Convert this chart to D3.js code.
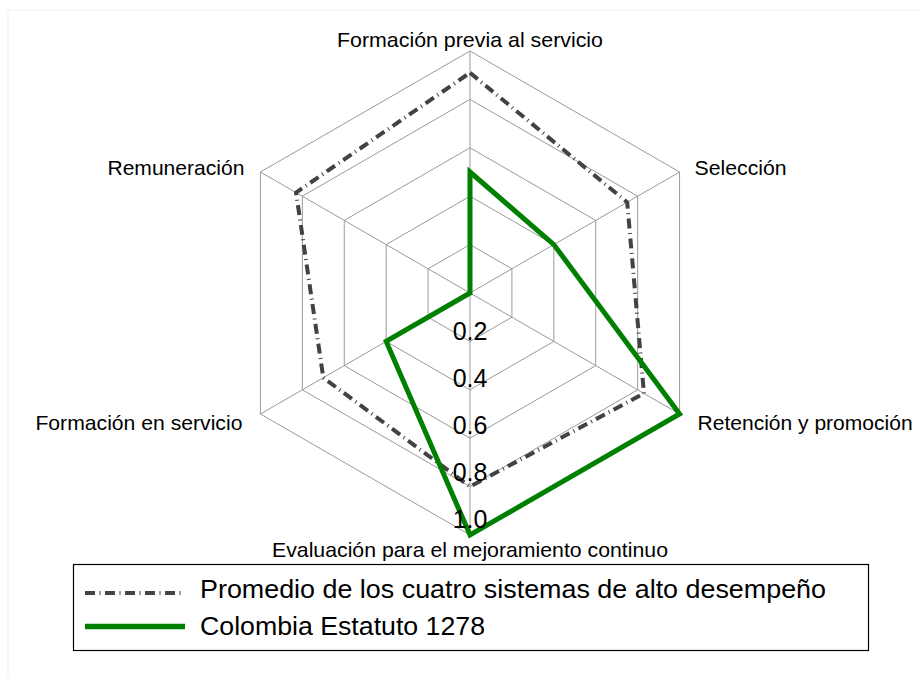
<!DOCTYPE html>
<html>
<head>
<meta charset="utf-8">
<script src="https://cdn.jsdelivr.net/npm/d3@7"></script>
<style>
  body { margin: 0; background: #fff; }
  svg { display: block; font-family: "Liberation Sans", Arial, Helvetica, sans-serif; }
</style>
</head>
<body>
<svg width="919" height="677"></svg>
<script>
// axes, clockwise from the top
var categories = ["Formación previa al servicio", "Selección", "Retención y promoción",
  "Evaluación para el mejoramiento continuo", "Formación en servicio", "Remuneración"];
var promedio = [0.91, 0.75, 0.83, 0.80, 0.70, 0.83];
var colombia = [0.50, 0.40, 1.00, 1.00, 0.40, 0.00];
var ringTicks = [0.2, 0.4, 0.6, 0.8, 1.0];
var ringLabels = ["0.2", "0.4", "0.6", "0.8", "1.0"];
var seriesNames = ["Promedio de los cuatro sistemas de alto desempeño", "Colombia Estatuto 1278"];

var svg = d3.select("svg"),
  cx = 470, cy = 293;

// faint outer frame
svg.append("rect")
  .attr("x", 8).attr("y", 10).attr("width", 930).attr("height", 700)
  .attr("fill", "none").attr("stroke", "#eef2f2").attr("stroke-width", 1);

var r = d3.scaleLinear().domain([0, 1]).range([0, 242]);
var angle = d3.scaleLinear().domain([0, categories.length]).range([0, 2 * Math.PI]);

var g = svg.append("g").attr("transform", "translate(" + cx + "," + cy + ")");

function pt(i, v) {
  var a = angle(i);
  return [r(v) * Math.sin(a), -r(v) * Math.cos(a)];
}

var radial = d3.lineRadial()
  .angle(function (d, i) { return angle(i); })
  .radius(function (d) { return r(d); })
  .curve(d3.curveLinearClosed);

// rings
g.append("g").selectAll("path")
  .data(ringTicks)
  .enter().append("path")
  .attr("d", function (t) { return radial(categories.map(function () { return t; })); })
  .attr("fill", "none")
  .attr("stroke", "#9a9a9a")
  .attr("stroke-width", 1);

// spokes
g.append("g").selectAll("line")
  .data(categories)
  .enter().append("line")
  .attr("x1", 0).attr("y1", 0)
  .attr("x2", function (d, i) { return pt(i, 1)[0]; })
  .attr("y2", function (d, i) { return pt(i, 1)[1]; })
  .attr("stroke", "#9a9a9a")
  .attr("stroke-width", 1);

// series
g.append("path")
  .datum(promedio)
  .attr("d", radial)
  .attr("fill", "none")
  .attr("stroke", "#424242")
  .attr("stroke-width", 4)
  .attr("stroke-dasharray", "10,4.5,1,4.5")
  .attr("stroke-linejoin", "miter");

g.append("path")
  .datum(colombia)
  .attr("d", radial)
  .attr("fill", "none")
  .attr("stroke", "#008000")
  .attr("stroke-width", 5)
  .attr("stroke-linejoin", "miter");

// ring labels down the bottom axis
g.append("g").selectAll("text")
  .data(ringTicks)
  .enter().append("text")
  .attr("x", 0)
  .attr("y", function (t) { return r(t) * 0.972; })
  .attr("text-anchor", "middle")
  .style("font-size", "25px")
  .attr("fill", "#000")
  .text(function (t, i) { return ringLabels[i]; });

// axis labels
var labelPos = [
  { dx: 0, dy: -4, anchor: "middle", w: 266 },
  { dx: 15, dy: 3, anchor: "start", w: 92 },
  { dx: 18, dy: 16, anchor: "start", w: 215 },
  { dx: 0, dy: 22, anchor: "middle", w: 396 },
  { dx: -18, dy: 16, anchor: "end", w: 207 },
  { dx: -16, dy: 3, anchor: "end", w: 137 }
];
g.append("g").selectAll("text")
  .data(categories)
  .enter().append("text")
  .attr("x", function (d, i) { return pt(i, 1)[0] + labelPos[i].dx; })
  .attr("y", function (d, i) { return pt(i, 1)[1] + labelPos[i].dy; })
  .attr("text-anchor", function (d, i) { return labelPos[i].anchor; })
  .attr("textLength", function (d, i) { return labelPos[i].w; })
  .attr("lengthAdjust", "spacingAndGlyphs")
  .style("font-size", "21px")
  .attr("fill", "#000")
  .text(function (d) { return d; });

// legend
var legend = svg.append("g");
legend.append("rect")
  .attr("x", 73.5).attr("y", 564.5).attr("width", 795).attr("height", 86)
  .attr("fill", "#fff").attr("stroke", "#000").attr("stroke-width", 1.2);

var legendItems = [
  { name: seriesNames[0], y: 593, base: 598, stroke: "#424242", width: 4, dash: "10,4.5,1,4.5", w: 626 },
  { name: seriesNames[1], y: 626.5, base: 635, stroke: "#008000", width: 5.5, dash: null, w: 285 }
];
var li = legend.selectAll("g.item")
  .data(legendItems)
  .enter().append("g").attr("class", "item");
li.append("line")
  .attr("x1", 85).attr("x2", 185)
  .attr("y1", function (d) { return d.y; })
  .attr("y2", function (d) { return d.y; })
  .attr("stroke", function (d) { return d.stroke; })
  .attr("stroke-width", function (d) { return d.width; })
  .attr("stroke-dasharray", function (d) { return d.dash; });
li.append("text")
  .attr("x", 200)
  .attr("y", function (d) { return d.base; })
  .attr("textLength", function (d) { return d.w; })
  .attr("lengthAdjust", "spacingAndGlyphs")
  .style("font-size", "25px")
  .attr("fill", "#000")
  .text(function (d) { return d.name; });
</script>
</body>
</html>
